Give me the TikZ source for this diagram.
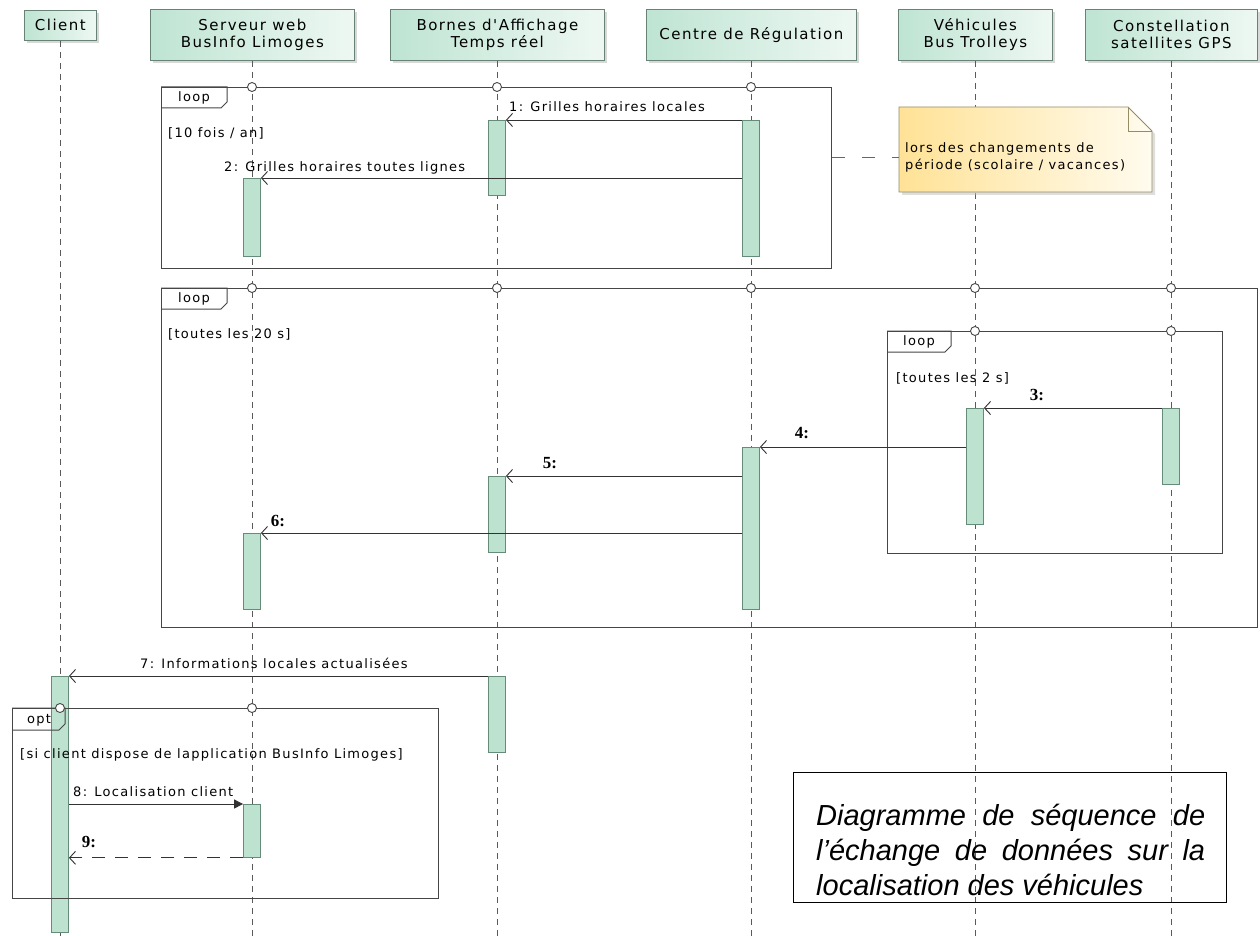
\documentclass[tikz,border=0pt]{standalone}
\usepackage{fontspec}
\setmainfont{DejaVu Sans}
\newfontfamily\umlfont[LetterSpace=10]{DejaVu Sans}
\newfontfamily\headfont[LetterSpace=10]{DejaVu Sans}
\newfontfamily\numfont{Liberation Serif}
\newfontfamily\capfont{Liberation Sans}
\usetikzlibrary{arrows.meta,shadows,calc}

\definecolor{actfill}{RGB}{189,227,208}
\definecolor{actdraw}{RGB}{100,140,120}
\definecolor{headL}{RGB}{190,228,211}
\definecolor{headR}{RGB}{238,248,243}
\definecolor{headdraw}{RGB}{105,130,118}
\definecolor{framecol}{RGB}{70,70,70}
\definecolor{lifecol}{RGB}{90,90,90}
\definecolor{msgcol}{RGB}{50,50,50}
\definecolor{noteL}{RGB}{255,226,150}
\definecolor{noteR}{RGB}{255,251,238}
\definecolor{notedraw}{RGB}{150,140,100}

\begin{document}
\begin{tikzpicture}[x=1pt,y=-1pt,
  head/.style={draw=headdraw, line width=0.8pt, left color=headL, right color=headR,
    drop shadow={shadow xshift=3pt, shadow yshift=-3pt, fill=black!30},
    anchor=north west, inner sep=0pt, align=center,
    font=\headfont\fontsize{15}{17}\selectfont},
  lifeline/.style={draw=lifecol, line width=0.7pt, dash pattern=on 6pt off 5pt},
  frame/.style={draw=framecol, line width=1.1pt, anchor=north west, inner sep=0pt},
  tabline/.style={draw=framecol, line width=1pt},
  gate/.style={draw=framecol, line width=0.9pt, fill=white},
  act/.style={draw=actdraw, fill=actfill, line width=0.8pt, minimum width=17pt,
    inner sep=0pt, anchor=north},
  msg/.style={draw=msgcol, line width=0.9pt, -{Straight Barb[length=6pt,width=13pt]}},
  syncmsg/.style={draw=msgcol, line width=0.9pt, -{Triangle[length=9pt,width=9pt]}},
  retmsg/.style={draw=msgcol, line width=0.9pt, dash pattern=on 13pt off 10pt,
    -{Straight Barb[length=6pt,width=13pt]}},
  lbl/.style={font=\umlfont\fontsize{13}{15}\selectfont, inner sep=0pt, text=black},
  num/.style={font=\numfont\bfseries\fontsize{17}{19}\selectfont, inner sep=0pt},
  notelink/.style={draw=gray!80!black, line width=0.9pt, dash pattern=on 13pt off 17pt}
]
\fill[white] (0,0) rectangle (1260,936);
\useasboundingbox (0,0) rectangle (1260,936);
\coordinate (bot) at (0,936);

% ---------- participants ----------
\node[head, minimum width=72pt, minimum height=30pt] (client) at (24,10) {Client};
\node[head, minimum width=204pt, minimum height=51pt] (serveur) at (150,9) {Serveur web\\BusInfo Limoges};
\node[head, minimum width=214pt, minimum height=51pt] (bornes) at (390,9) {Bornes d'Affichage\\Temps réel};
\node[head, minimum width=210pt, minimum height=51pt] (centre) at (646,9) {Centre de Régulation};
\node[head, minimum width=154pt, minimum height=51pt] (vehic) at (898,9) {Véhicules\\Bus Trolleys};
\node[head, minimum width=172pt, minimum height=51pt] (gps) at (1085,9) {Constellation\\satellites GPS};

% ---------- lifelines ----------
\foreach \p in {client,serveur,bornes,centre,vehic,gps}
  \draw[lifeline] (\p.south) -- (\p.south |- bot);

% ---------- frames ----------
\node[frame, minimum width=670pt, minimum height=181pt] (loop1) at (161,87) {};
\node[frame, minimum width=1096pt, minimum height=339pt] (loop2) at (161,288) {};
\node[frame, minimum width=335pt, minimum height=222pt] (loop3) at (887,331) {};

\draw[tabline] (loop1.north west) -- ++(66,0) -- ++(0,15) -- ++(-6,6) -- ++(-60,0);
\draw[tabline] (loop2.north west) -- ++(66,0) -- ++(0,15) -- ++(-6,6) -- ++(-60,0);
\draw[tabline] (loop3.north west) -- ++(64,0) -- ++(0,15) -- ++(-6,6) -- ++(-58,0);

% ---------- activation bars ----------
\node[act, minimum height=75pt] (b1) at (497,120) {};
\node[act, minimum height=136pt] (c1) at (751,120) {};
\node[act, minimum height=78pt] (s1) at (252,178) {};
\node[act, minimum height=116pt] (v1) at (975,408) {};
\node[act, minimum height=76pt] (gp1) at (1171,408) {};
\node[act, minimum height=162pt] (c2) at (751,447) {};
\node[act, minimum height=76pt] (b2) at (497,476) {};
\node[act, minimum height=76pt] (s2) at (252,533) {};
\node[act, minimum height=256pt] (cl1) at (60,676) {};
\node[act, minimum height=76pt] (b3) at (497,676) {};
\node[act, minimum height=53pt] (s3) at (252,804) {};

% opt frame drawn over the client bar
\node[frame, minimum width=426pt, minimum height=190pt] (opt) at (12,708) {};
\draw[tabline] (opt.north west) -- ++(53,0) -- ++(0,16) -- ++(-6,6) -- ++(-47,0);

% gates
\foreach \x in {252,497,751} \draw[gate] (\x,87) circle (4.5pt);
\foreach \x in {252,497,751,975,1171} \draw[gate] (\x,288) circle (4.5pt);
\foreach \x in {975,1171} \draw[gate] (\x,331) circle (4.5pt);
\foreach \x in {60,252} \draw[gate] (\x,708) circle (4.5pt);

% frame labels
\node[lbl] (t1) at (194,98) {loop};
\node[lbl] (t2) at (194,299) {loop};
\node[lbl] (t3) at (919,342) {loop};
\node[lbl] (t4) at (39,720) {opt};

\node[lbl, anchor=base west] (g1t) at (168,138) {[10 fois / an]};
\node[lbl, anchor=base west] (g2t) at (168,338) {[toutes les 20 s]};
\node[lbl, anchor=base west] (g3t) at (896,382) {[toutes les 2 s]};
\node[lbl, anchor=base west] (g4t) at (20,758) {[si client dispose de lapplication BusInfo Limoges]};

% ---------- messages ----------
\draw[msg] (c1.north west) -- (b1.north east);
\draw[msg] (c1.west |- s1.north) -- (s1.north east);
\draw[msg] (gp1.north west) -- (v1.north east);
\draw[msg] (v1.west |- c2.north) -- (c2.north east);
\draw[msg] (c2.west |- b2.north) -- (b2.north east);
\draw[msg] (c2.west |- s2.north) -- (s2.north east);
\draw[msg] (b3.north west) -- (cl1.north east);
\draw[syncmsg] (cl1.east |- s3.north) -- (s3.north west);
\draw[retmsg] (s3.south west) -- (cl1.east |- s3.south);

\node[lbl, anchor=base west] (l1) at (509,112) {1: Grilles horaires locales};
\node[lbl, anchor=base west] (l2) at (224,172) {2: Grilles horaires toutes lignes};
\node[num] (l3) at (1037,395) {3:};
\node[num] (l4) at (802,433) {4:};
\node[num] (l5) at (550,463) {5:};
\node[num] (l6) at (278,521) {6:};
\node[lbl, anchor=base west] (l7) at (140,668) {7: Informations locales actualisées};
\node[lbl, anchor=base west] (l8) at (73,796) {8: Localisation client};
\node[num] (l9) at (89,842) {9:};

% ---------- note ----------
\path[left color=noteL, right color=noteR, draw=notedraw, line width=0.8pt,
  drop shadow={shadow xshift=3pt, shadow yshift=-3pt, fill=black!25}]
  (899,107) -- (1128,107) -- (1152,131) -- (1152,192) -- (899,192) -- cycle;
\draw[draw=notedraw, line width=0.8pt] (1128,107) -- (1128,131) -- (1152,131);
\node[lbl, anchor=west, align=left, inner xsep=6pt, inner ysep=0pt,
  font=\umlfont\fontsize{13}{17}\selectfont] (note) at (899,157)
  {lors des changements de\\période (scolaire / vacances)};
\draw[notelink] (loop1.east |- note.west) -- (note.west);

% ---------- caption ----------
\node[draw=black, line width=1.3pt, anchor=north west, minimum width=433pt,
  minimum height=130pt, inner sep=0pt] (capbox) at (793,772) {};
\node[anchor=north west, inner sep=0pt, align=left,
  font=\capfont\itshape\fontsize{29}{35}\selectfont] (captext) at (816,804)
  {\makebox[389pt][s]{Diagramme de séquence de}\\
   \makebox[389pt][s]{l’échange de données sur la}\\
   localisation des véhicules};
\end{tikzpicture}
\end{document}
